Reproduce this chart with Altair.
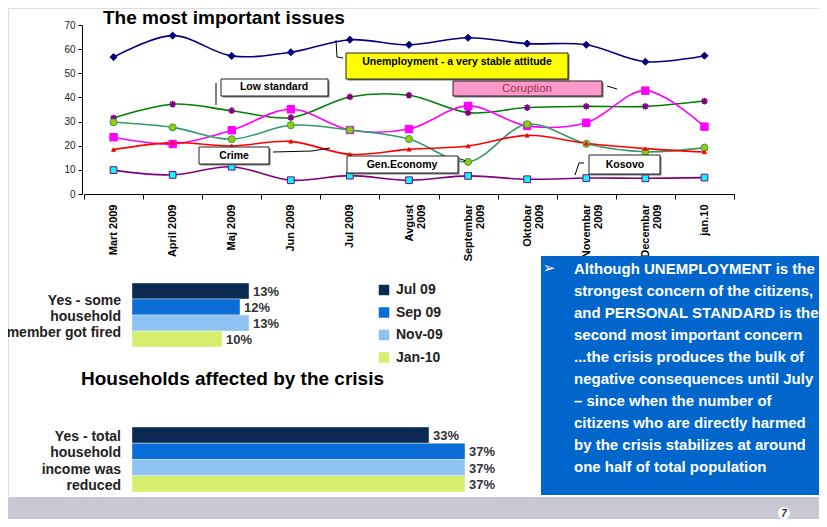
import altair as alt
import pandas as pd

# ---------------- data ----------------
months = ["Mart 2009", "April 2009", "Maj 2009", "Jun 2009", "Jul 2009",
          "Avgust\n2009", "Septembar\n2009", "Oktobar\n2009", "Novembar\n2009",
          "Decembar\n2009", "jan.10"]
issues = ["Unemployment", "Low standard", "Corruption", "Gen.Economy", "Crime", "Kosovo"]
unemployment = [56.7, 65.6, 57.2, 58.7, 63.9, 61.8, 64.7, 62.3, 61.8, 54.8, 57.3]
low_standard = [31.5, 37.2, 34.5, 31.6, 40.2, 40.9, 33.7, 35.8, 36.3, 36.3, 38.5]
corruption = [23.5, 20.7, 26.4, 35.1, 26.5, 26.9, 36.5, 28.2, 29.5, 42.8, 27.9]
gen_economy = [29.7, 27.6, 22.7, 28.5, 26.5, 22.8, 13.3, 28.9, 20.8, 17.5, 19.2]
crime = [18.4, 21.3, 19.9, 21.8, 16.4, 18.5, 19.9, 24.3, 21.0, 18.8, 17.4]
kosovo = [9.9, 7.9, 11.3, 5.7, 7.6, 5.7, 7.5, 6.1, 6.6, 6.5, 6.8]

survey = ["Jul 09", "Sep 09", "Nov-09", "Jan-10"]
fired = [13, 12, 13, 10]
income_reduced = [33, 37, 37, 37]

fired_label = ["Yes - some", "household", "member got fired"]
income_label = ["Yes - total", "household", "income was", "reduced"]
box_text = ["Although UNEMPLOYMENT is the", "strongest concern of the citizens,",
            "and PERSONAL STANDARD is the", "second most important concern",
            "...the crisis produces the bulk of", "negative consequences until July",
            "\u2013 since when the number of", "citizens who are directly harmed",
            "by the crisis stabilizes at around", "one half of total population"]

# ---------------- tables ----------------
series_values = [unemployment, low_standard, corruption, gen_economy, crime, kosovo]
line_df = pd.DataFrame([
    {"month": m, "issue": iss, "value": v}
    for iss, vals in zip(issues, series_values)
    for m, v in zip(months, vals)
])
fired_df = pd.DataFrame({"series": survey, "value": fired,
                         "label": [f"{v}%" for v in fired]})
income_df = pd.DataFrame({"series": survey, "value": income_reduced,
                          "label": [f"{v}%" for v in income_reduced]})
one = pd.DataFrame({"a": [0]})

FONT = "Liberation Sans"
OX, OY = 8, 8  # page margin offset


def px(x):
    return x - OX


def py(y):
    return y - OY


def rect(x1, y1, x2, y2, fill, stroke=None, sw=1):
    kw = dict(fill=fill)
    if stroke:
        kw.update(stroke=stroke, strokeWidth=sw)
    return alt.Chart(one).mark_rect(**kw).encode(
        x=alt.value(px(x1)), x2=alt.value(px(x2)),
        y=alt.value(py(y1)), y2=alt.value(py(y2)))


def seg(x1, y1, x2, y2, color="black", sw=1):
    return alt.Chart(one).mark_rule(color=color, strokeWidth=sw).encode(
        x=alt.value(px(x1)), x2=alt.value(px(x2)),
        y=alt.value(py(y1)), y2=alt.value(py(y2)))


def label(x, y, text, **kw):
    opts = dict(font=FONT, fontSize=11, fontWeight="bold", color="black",
                align="center", baseline="middle")
    opts.update(kw)
    return alt.Chart(one).mark_text(**opts).encode(
        x=alt.value(px(x)), y=alt.value(py(y)), text=alt.value(text))


def anno_box(x1, y1, x2, y2, fill):
    return [rect(x1 + 1.5, y1 + 1.5, x2 + 1.5, y2 + 1.5, "#777777"),
            rect(x1, y1, x2, y2, fill, "#222222", 1)]


# ---------------- line chart ----------------
line_colors = ["#000080", "#008000", "#FF00FF", "#339966", "#FF0000", "#800080"]
x_enc = alt.X(
    "month:N",
    scale=alt.Scale(type="band", domain=months, range=[px(84), px(734)],
                    paddingInner=0, paddingOuter=0),
    bandPosition=0.5,
    axis=alt.Axis(title=None, orient="bottom", offset=-(511 - py(194)),
                  labelAngle=-90, labelFont=FONT, labelFontSize=11,
                  labelFontWeight="bold", labelColor="black",
                  labelExpr="split(datum.label, '\\n')", labelLineHeight=12.5,
                  labelOverlap=False, labelPadding=5, tickBand="extent",
                  tickSize=5, tickColor="black", domainColor="black"),
)
y_enc = alt.Y(
    "value:Q",
    scale=alt.Scale(domain=[0, 70], range=[py(194), py(25)], nice=False),
    axis=alt.Axis(title=None, orient="left", offset=-px(82),
                  values=list(range(0, 71, 10)), grid=False, tickSize=4,
                  tickColor="black", domainColor="black", labelFont=FONT,
                  labelFontSize=10, labelColor="#222222", labelPadding=3),
)

lines = alt.Chart(line_df).mark_line(interpolate="catmull-rom", strokeWidth=1.6).encode(
    x=x_enc, y=y_enc,
    color=alt.Color("issue:N", scale=alt.Scale(domain=issues, range=line_colors),
                    legend=None),
    detail="issue:N",
)

asterisk = "M-1,0L1,0M0,-1L0,1M-0.7,-0.7L0.7,0.7M-0.7,0.7L0.7,-0.7"
marker_styles = {
    "Unemployment": dict(shape="diamond", size=50, fill="#000080", stroke="#000080"),
    "Low standard": dict(shape=asterisk, size=45, fill="#800080", stroke="#800080", strokeWidth=1.6),
    "Corruption": dict(shape="square", size=55, fill="#FF00FF", stroke="#FF00FF"),
    "Gen.Economy": dict(shape="circle", size=50, fill="#99CC00", stroke="#339966"),
    "Crime": dict(shape="triangle-up", size=16, fill="#FF0000", stroke="#FF0000"),
    "Kosovo": dict(shape="square", size=45, fill="#00FFFF", stroke="#800080"),
}
point_layers = []
for iss in issues:
    st = dict(filled=True, opacity=1, strokeWidth=1)
    st.update(marker_styles[iss])
    point_layers.append(
        alt.Chart(line_df).transform_filter(alt.datum.issue == iss)
        .mark_point(**st).encode(x=x_enc, y=y_enc))

line_chart = alt.layer(lines, *point_layers)

# ---------------- bar charts ----------------
bar_colors = ["#0B2A52", "#0A6ED6", "#8DC3F2", "#D3EF6B"]


def bar_block(df, y1, y2, show_legend):
    xs = alt.X("value:Q", scale=alt.Scale(domain=[0, 40], range=[px(132), px(492)],
                                          nice=False, zero=True), axis=None)
    ys = alt.Y("series:N", scale=alt.Scale(domain=survey, range=[py(y1), py(y2)],
                                           paddingInner=0, paddingOuter=0), axis=None)
    if show_legend:
        leg = alt.Legend(title=None, orient="none", legendX=px(377), legendY=py(283),
                         symbolType="square", symbolSize=110, symbolStrokeWidth=0,
                         labelFont=FONT, labelFontSize=14, labelFontWeight="bold",
                         labelColor="#222222", rowPadding=8.5, labelOffset=5)
    else:
        leg = None
    bars = alt.Chart(df).mark_bar(stroke="white", strokeWidth=0.4).encode(
        x=xs, y=ys,
        color=alt.Color("series:N", scale=alt.Scale(domain=survey, range=bar_colors),
                        legend=leg))
    txt = alt.Chart(df).mark_text(align="left", baseline="middle", dx=4, dy=1,
                                  font=FONT, fontSize=13, fontWeight="bold",
                                  color="#333333").encode(x=xs, y=ys, text="label:N")
    return alt.layer(bars, txt)


bars_fired = bar_block(fired_df, 283, 347, True)
bars_income = bar_block(income_df, 427, 492, False)

# ---------------- assemble ----------------
layers = []
layers.append(rect(0, 497, 827, 530, "#C8C8D2"))
layers.append(line_chart)
layers.append(label(103, 24, "The most important issues", align="left", fontSize=19,
                    baseline="alphabetic"))

# annotations
layers += [seg(336, 40, 337, 57), seg(337, 57, 343, 58)]
layers += anno_box(346, 53, 568, 79, "#FFFF00")
layers.append(label(457, 62, "Unemployment - a very stable attitude", fontSize=10.5))
layers.append(seg(216, 83, 216, 105))
layers += anno_box(221, 79, 328, 96, "white")
layers.append(label(274, 87, "Low standard", fontSize=10.5))
layers.append(seg(607, 86, 617, 89))
layers += anno_box(453, 81, 602, 96, "#FF99CC")
layers.append(label(527, 89, "Coruption", fontWeight="normal", fontSize=11.5, color="#993344"))
layers += [seg(273, 152, 312, 151), seg(312, 151, 330, 148)]
layers += anno_box(199, 147, 269, 164, "white")
layers.append(label(234, 155.5, "Crime", fontSize=10.5))
layers.append(seg(458, 158, 466, 161))
layers += anno_box(347, 156, 458, 173, "white")
layers.append(label(402, 164.5, "Gen.Economy", fontSize=10.5))
layers += [seg(575, 175, 579, 163), seg(579, 163, 584, 163)]
layers += anno_box(589, 155, 660, 174, "white")
layers.append(label(625, 164.5, "Kosovo", fontSize=10.5))

# bars
layers.append(bars_fired)
layers.append(bars_income)
layers.append(alt.Chart(one).mark_text(font=FONT, fontSize=14, fontWeight="bold",
                                       color="#222222", align="right",
                                       baseline="alphabetic", lineHeight=16).encode(
    x=alt.value(px(121)), y=alt.value(py(305)), text=alt.value(fired_label)))
layers.append(alt.Chart(one).mark_text(font=FONT, fontSize=14, fontWeight="bold",
                                       color="#222222", align="right",
                                       baseline="alphabetic", lineHeight=16.3).encode(
    x=alt.value(px(121)), y=alt.value(py(441)), text=alt.value(income_label)))
layers.append(label(81, 384.5, "Households affected by the crisis", align="left",
                    fontSize=19, baseline="alphabetic"))

# blue text box
layers.append(rect(541, 256, 830, 495, "#0066CC"))
layers.append(label(549, 268, "\u27A2", font="DejaVu Sans", fontSize=15, color="white",
                    fontWeight="normal"))
layers.append(alt.Chart(one).mark_text(font=FONT, fontSize=15, fontWeight="bold",
                                       color="white", align="left",
                                       baseline="alphabetic", lineHeight=22).encode(
    x=alt.value(px(574)), y=alt.value(py(273.5)), text=alt.value(box_text)))

# page number
layers.append(alt.Chart(one).mark_point(shape="circle", filled=True, fill="white",
                                        opacity=1, size=150).encode(
    x=alt.value(px(784)), y=alt.value(py(513))))
layers.append(label(784, 513.5, "7", fontSize=10, fontStyle="italic", color="#333333"))

chart = alt.layer(*layers).resolve_scale(
    x="independent", y="independent", color="independent"
).properties(
    width=811, height=511, padding=0,
    autosize=alt.AutoSizeParams(type="none"),
).configure_view(stroke=None).configure(font=FONT, background="white")

chart.save("out.html", embed_options={"renderer": "svg", "actions": False})
